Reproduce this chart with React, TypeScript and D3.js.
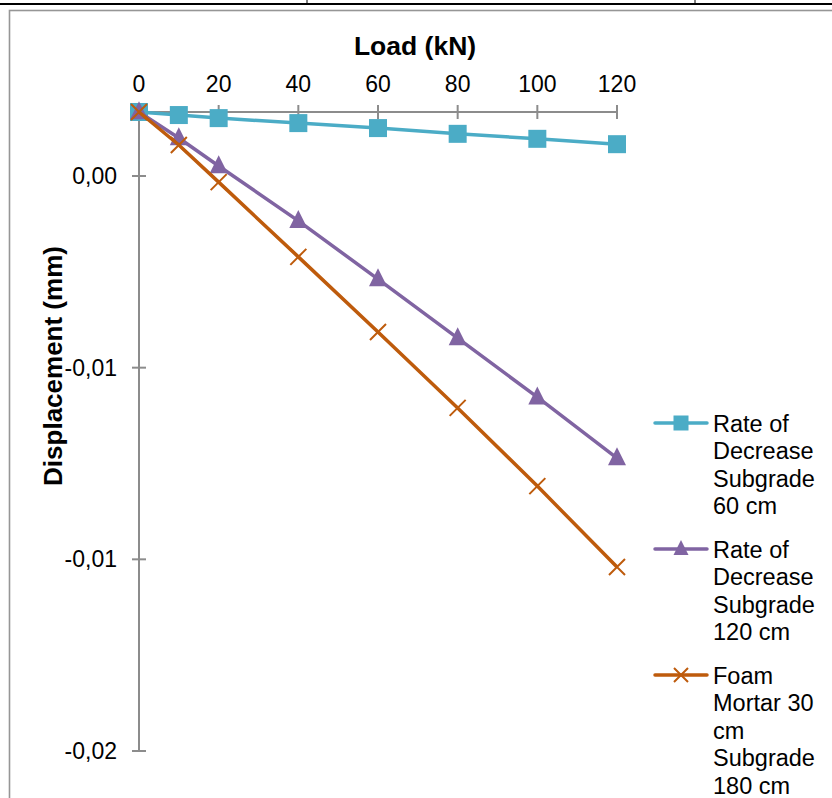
import React from "react";
import * as d3 from "d3";

const loads = [0, 10, 20, 40, 60, 80, 100, 120];
const xTicks = [0, 20, 40, 60, 80, 100, 120];
const yTicks = [0, -0.005, -0.01, -0.015];
const yTickLabels = ["0,00", "-0,01", "-0,01", "-0,02"];

const seriesNames = [
  ["Rate of", "Decrease", "Subgrade", "60 cm"],
  ["Rate of", "Decrease", "Subgrade", "120 cm"],
  ["Foam", "Mortar 30", "cm", "Subgrade", "180 cm"],
];
const subgrade60 = [0.00167, 0.00159, 0.00151, 0.00138, 0.00125, 0.0011, 0.00097, 0.00083];
const subgrade120 = [0.00167, 0.00099, 0.00026, -0.00117, -0.00269, -0.00423, -0.00577, -0.00736];
const foamMortar = [0.00167, 0.00081, -0.00016, -0.00211, -0.00407, -0.00605, -0.00809, -0.0102];

const colors = ["#4BACC6", "#8064A2", "#BE5B0C"];
const markers = ["square", "triangle", "x"];

const FONT = "Liberation Sans, Arial, sans-serif";

function Marker({ type, x, y, color, size }: { type: string; x: number; y: number; color: string; size: number }) {
  if (type === "square") {
    return <rect x={x - size / 2} y={y - size / 2} width={size} height={size} fill={color} />;
  }
  if (type === "triangle") {
    const h = size;
    const w = size;
    return (
      <path
        d={`M${x},${y - h * 0.6} L${x + w / 2},${y + h * 0.4} L${x - w / 2},${y + h * 0.4} Z`}
        fill={color}
      />
    );
  }
  const r = size / 2;
  return (
    <path
      d={`M${x - r},${y - r} L${x + r},${y + r} M${x - r},${y + r} L${x + r},${y - r}`}
      stroke={color}
      strokeWidth={2}
      fill="none"
    />
  );
}

export default function App() {
  const x = d3.scaleLinear().domain([0, 120]).range([139, 617]);
  const y = d3.scaleLinear().domain([0, -0.015]).range([176, 751]);
  const yTop = 0.00167;
  const axisY = y(yTop);
  const data = [subgrade60, subgrade120, foamMortar];
  const line = d3
    .line<number>()
    .x((_, i) => x(loads[i]))
    .y((d) => y(d));

  const legendTop = [423, 549, 675];
  const lineH = 27.4;

  return (
    <div style={{ position: "absolute", left: 0, top: 0 }}>
      <svg width={832} height={798} style={{ display: "block", background: "#fff" }}>
        {/* table frame */}
        <line x1={0} x2={832} y1={4} y2={4} stroke="#000" strokeWidth={2} />
        <line x1={307} x2={307} y1={0} y2={4} stroke="#000" strokeWidth={1} />
        <line x1={695} x2={695} y1={0} y2={4} stroke="#000" strokeWidth={1} />
        {/* chart border */}
        <rect x={9.5} y={10.5} width={840} height={800} fill="none" stroke="#969696" strokeWidth={1.6} />

        {/* axis title */}
        <text x={415} y={55} textAnchor="middle" fontFamily={FONT} fontWeight="bold" fontSize={26.5}>
          Load (kN)
        </text>
        <text
          transform={`translate(62,366) rotate(-90)`}
          textAnchor="middle"
          fontFamily={FONT}
          fontWeight="bold"
          fontSize={26}
        >
          Displacement (mm)
        </text>

        {/* x axis */}
        <line x1={x(0)} x2={x(120)} y1={axisY} y2={axisY} stroke="#8c8c8c" strokeWidth={2} />
        {xTicks.map((t) => (
          <g key={t}>
            <line x1={x(t)} x2={x(t)} y1={axisY - 7} y2={axisY + 7} stroke="#8c8c8c" strokeWidth={2} />
            <text x={x(t)} y={92} textAnchor="middle" fontFamily={FONT} fontSize={23}>
              {t}
            </text>
          </g>
        ))}

        {/* y axis */}
        <line x1={x(0)} x2={x(0)} y1={axisY} y2={y(-0.015)} stroke="#8c8c8c" strokeWidth={2} />
        {yTicks.map((t, i) => (
          <g key={i}>
            <line x1={x(0) - 7} x2={x(0) + 7} y1={y(t)} y2={y(t)} stroke="#8c8c8c" strokeWidth={2} />
            <text x={117} y={y(t) + 8} textAnchor="end" fontFamily={FONT} fontSize={23}>
              {yTickLabels[i]}
            </text>
          </g>
        ))}

        {/* series */}
        {data.map((s, si) => (
          <g key={si}>
            <path d={line(s) || ""} fill="none" stroke={colors[si]} strokeWidth={3.5} />
            {s.map((v, i) => (
              <Marker key={i} type={markers[si]} x={x(loads[i])} y={y(v)} color={colors[si]} size={si === 2 ? 16 : 18} />
            ))}
          </g>
        ))}

        {/* legend */}
        {seriesNames.map((lines, si) => (
          <g key={si}>
            <line x1={655} x2={707} y1={legendTop[si]} y2={legendTop[si]} stroke={colors[si]} strokeWidth={3.5} strokeLinecap="round" />
            <Marker type={markers[si]} x={681} y={legendTop[si]} color={colors[si]} size={si === 2 ? 14 : 15} />
            {lines.map((l, li) => (
              <text key={li} x={713} y={legendTop[si] + 9 + li * lineH} fontFamily={FONT} fontSize={23.5}>
                {l}
              </text>
            ))}
          </g>
        ))}
      </svg>
    </div>
  );
}
